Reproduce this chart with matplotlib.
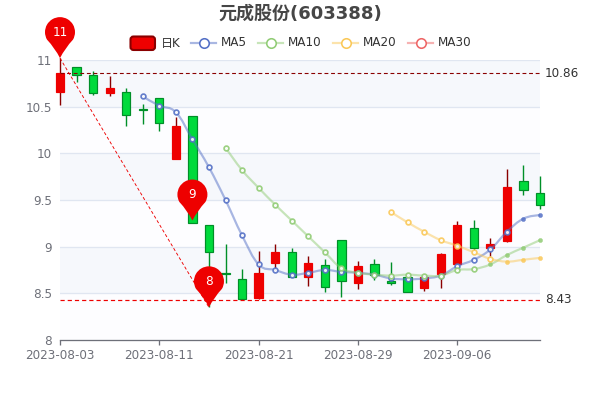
import numpy as np
import matplotlib
matplotlib.use("Agg")
import matplotlib.pyplot as plt
from matplotlib.path import Path
from matplotlib.patches import PathPatch, FancyBboxPatch
from matplotlib.transforms import Affine2D, ScaledTranslation

plt.rcParams['font.family'] = ['DejaVu Sans', 'Noto Sans CJK SC']

nan = float('nan')

# Data
dates = ["2023-08-03", "2023-08-04", "2023-08-07", "2023-08-08", "2023-08-09", "2023-08-10",
         "2023-08-11", "2023-08-14", "2023-08-15", "2023-08-16", "2023-08-17", "2023-08-18",
         "2023-08-21", "2023-08-22", "2023-08-23", "2023-08-24", "2023-08-25", "2023-08-28",
         "2023-08-29", "2023-08-30", "2023-08-31", "2023-09-01", "2023-09-04", "2023-09-05",
         "2023-09-06", "2023-09-07", "2023-09-08", "2023-09-11", "2023-09-12", "2023-09-13"]
opens = [10.66, 10.93, 10.84, 10.65, 10.66, 10.48, 10.59, 9.94, 10.40, 9.23,
         8.72, 8.65, 8.45, 8.83, 8.94, 8.68, 8.80, 9.07, 8.61, 8.81,
         8.63, 8.68, 8.56, 8.71, 8.81, 9.20, 8.99, 9.06, 9.70, 9.57]
closes = [10.86, 10.84, 10.65, 10.70, 10.41, 10.46, 10.33, 10.29, 9.25, 8.94,
          8.71, 8.44, 8.72, 8.94, 8.68, 8.83, 8.57, 8.63, 8.79, 8.70,
          8.61, 8.51, 8.67, 8.92, 9.23, 8.99, 9.03, 9.64, 9.61, 9.45]
lows = [10.52, 10.76, 10.62, 10.61, 10.29, 10.31, 10.24, 9.94, 9.25, 8.35,
        8.61, 8.43, 8.44, 8.75, 8.67, 8.58, 8.51, 8.46, 8.55, 8.64,
        8.59, 8.51, 8.53, 8.56, 8.80, 8.96, 8.90, 9.05, 9.55, 9.40]
highs = [11.02, 10.93, 10.88, 10.83, 10.70, 10.53, 10.59, 10.39, 10.40, 9.23,
         9.03, 8.76, 8.95, 9.03, 8.99, 8.90, 8.87, 9.07, 8.85, 8.87,
         8.84, 8.70, 8.69, 8.93, 9.28, 9.29, 9.09, 9.83, 9.88, 9.76]
ma5 = [nan, nan, nan, nan, nan, 10.61, 10.51, 10.44, 10.15, 9.85,
       9.50, 9.12, 8.81, 8.75, 8.70, 8.72, 8.75, 8.73, 8.72, 8.70,
       8.66, 8.65, 8.66, 8.69, 8.79, 8.86, 8.97, 9.16, 9.30, 9.34]
ma10 = [nan, nan, nan, nan, nan, nan, nan, nan, nan, nan,
        10.06, 9.82, 9.63, 9.45, 9.28, 9.11, 8.94, 8.77, 8.72, 8.70,
        8.69, 8.70, 8.69, 8.69, 8.75, 8.76, 8.81, 8.91, 8.99, 9.07]
ma20 = [nan, nan, nan, nan, nan, nan, nan, nan, nan, nan,
        nan, nan, nan, nan, nan, nan, nan, nan, nan, nan,
        9.37, 9.26, 9.16, 9.07, 9.01, 8.94, 8.87, 8.84, 8.86, 8.88]
yticks = [8, 8.5, 9, 9.5, 10, 10.5, 11]
xtick_idx = [0, 6, 12, 18, 24]
max_close = 10.86
min_close = 8.43
pin_idx = [0, 8, 9]
pin_values = [11.02, 9.28, 8.35]
pin_labels = ["11", "9", "8"]

RED = '#EE0000'
RED_DARK = '#8A0000'
GREEN = '#00DA3C'
GREEN_DARK = '#008F28'
AXIS = '#6E7079'
GRID = '#E0E6F1'
C5, C10, C20, C30 = '#5470C6', '#91CC75', '#FAC858', '#EE6666'
PX = 0.72  # one pixel in points at dpi 100

fig = plt.figure(figsize=(6, 4), dpi=100)
ax = fig.add_axes([60 / 600, 60 / 400, 480 / 600, 280 / 400])
ax.set_xlim(0, 29)
ax.set_ylim(8, 11)

# split area and grid, top band is the shaded one
for i in range(len(yticks) - 1):
    shade = '#F6F8FC' if (len(yticks) - 2 - i) % 2 == 0 else '#FDFDFF'
    ax.axhspan(yticks[i], yticks[i + 1], color=shade, lw=0, zorder=0)
for y in yticks[1:]:
    ax.axhline(y, color=GRID, lw=1.3 * PX, zorder=1)

x = np.arange(len(dates))
o = np.array(opens)
c = np.array(closes)
up = c > o
fills = [RED if u else GREEN for u in up]
edges = [RED_DARK if u else GREEN_DARK for u in up]

ax.vlines(x, lows, highs, colors=edges, lw=1.4 * PX, zorder=2, clip_on=False)
ax.bar(x, np.abs(c - o), bottom=np.minimum(o, c), width=0.5, color=fills,
       edgecolor=[RED if u else GREEN_DARK for u in up], lw=1.2 * PX, zorder=3, clip_on=False)


def smooth_path(xs, ys):
    # same idea as the smooth option of the original line series
    pts = np.column_stack((xs, ys))
    verts = [pts[0]]
    codes = [Path.MOVETO]
    n = len(pts)
    for i in range(n - 1):
        p0, p1 = pts[max(i - 1, 0)], pts[i]
        p2, p3 = pts[i + 1], pts[min(i + 2, n - 1)]
        verts += [p1 + (p2 - p0) * 0.2, p2 - (p3 - p1) * 0.2, p2]
        codes += [Path.CURVE4] * 3
    return Path(verts, codes)


def draw_ma(values, color, n_small):
    vals = np.array(values)
    ok = ~np.isnan(vals)
    xs, ys = x[ok], vals[ok]
    ax.add_patch(PathPatch(smooth_path(xs, ys), fc='none', ec=color, lw=2.2 * PX, alpha=0.5,
                           zorder=4, clip_on=False))
    # the last few points are plain small dots in the reference
    k = len(xs) - n_small
    ax.plot(xs[:k], ys[:k], ls='none', marker='o', ms=4.8 * PX, mfc='#FFFFFF', mec=color,
            mew=1.7 * PX, zorder=5, clip_on=False, alpha=0.9)
    ax.plot(xs[k:], ys[k:], ls='none', marker='o', ms=4.2 * PX, mfc=color, mec=color,
            mew=0.4 * PX, zorder=5, clip_on=False, alpha=0.85)


draw_ma(ma5, C5, 2)
draw_ma(ma10, C10, 4)
draw_ma(ma20, C20, 3)

# mark lines
ax.axhline(max_close, color=RED_DARK, lw=1.1 * PX, ls=(0, (3.5, 2.5)), zorder=6)
ax.axhline(min_close, color=RED, lw=1.2 * PX, ls=(0, (3.5, 2.5)), zorder=6)
ax.plot([pin_idx[0], pin_idx[2]], [pin_values[0], pin_values[2]], color=RED, lw=0.9 * PX,
        ls=(0, (3.5, 2.5)), zorder=6, clip_on=False)
ax.annotate(f"{max_close:.2f}", xy=(29, max_close), xytext=(5 * PX, 0), textcoords='offset points',
            ha='left', va='center', fontsize=12 * PX, color='#333333', annotation_clip=False)
ax.annotate(f"{min_close:.2f}", xy=(29, min_close), xytext=(5 * PX, 0), textcoords='offset points',
            ha='left', va='center', fontsize=12 * PX, color='#333333', annotation_clip=False)

# pins, shape in pixels with the tip on the origin
arc = Path.arc(-30, 210)
r = 15
cy = 26
arc_verts = arc.vertices * r + [0, cy]
pin_verts = np.vstack((arc_verts, [[-5, 10], [0, 0], [5, 10], arc_verts[0]]))
pin_codes = list(arc.codes) + [Path.CURVE3] * 4
pin_path = Path(pin_verts, pin_codes)
for idx, val, lab in zip(pin_idx, pin_values, pin_labels):
    tr = Affine2D() + ScaledTranslation(idx, val, ax.transData)
    ax.add_patch(PathPatch(pin_path, fc=RED, ec='none', transform=tr, zorder=8, clip_on=False))
    ax.annotate(lab, xy=(idx, val), xytext=(0, cy * PX), textcoords='offset points', ha='center',
                va='center', color='white', fontsize=12 * PX, zorder=9, annotation_clip=False)

# axes
for s in ['top', 'left', 'right']:
    ax.spines[s].set_visible(False)
ax.spines['bottom'].set_color(AXIS)
ax.spines['bottom'].set_linewidth(1.3 * PX)
ax.spines['bottom'].set_zorder(7)
ax.set_yticks(yticks)
ax.set_yticklabels([f"{v:g}" for v in yticks])
ax.set_xticks(xtick_idx)
ax.set_xticklabels([dates[i] for i in xtick_idx])
ax.tick_params(axis='y', length=0, pad=8 * PX, labelsize=12 * PX, labelcolor=AXIS)
ax.tick_params(axis='x', length=5 * PX, width=1.3 * PX, color=AXIS, pad=4 * PX, labelsize=12 * PX,
               labelcolor=AXIS)

# title and legend on a pixel overlay
top = fig.add_axes([0, 0, 1, 1], zorder=-1)
top.set_xlim(0, 600)
top.set_ylim(400, 0)
top.axis('off')
top.text(300, 14, "元成股份(603388)", ha='center', va='center', fontsize=18 * PX, fontweight='bold',
         color='#464646')

top.add_patch(FancyBboxPatch((130.5, 36.5), 24.5, 13.5, boxstyle="round,pad=0,rounding_size=3", fc=RED,
                             ec=RED_DARK, lw=1.5))
top.text(161, 43, "日K", ha='left', va='center', fontsize=12 * PX, color='#333333')
legend_names = ["MA5", "MA10", "MA20", "MA30"]
legend_colors = [C5, C10, C20, C30]
legend_x = [191, 258, 333, 408]
for name, col, lx in zip(legend_names, legend_colors, legend_x):
    top.plot([lx, lx + 25], [43, 43], color=col, lw=2.2 * PX, alpha=0.5)
    top.plot([lx + 12.5], [43], marker='o', ms=9.5 * PX, mfc='white', mec=col, mew=1.6 * PX)
    top.text(lx + 30, 43, name, ha='left', va='center', fontsize=12 * PX, color='#333333')

fig.savefig("out.png", dpi=100)
